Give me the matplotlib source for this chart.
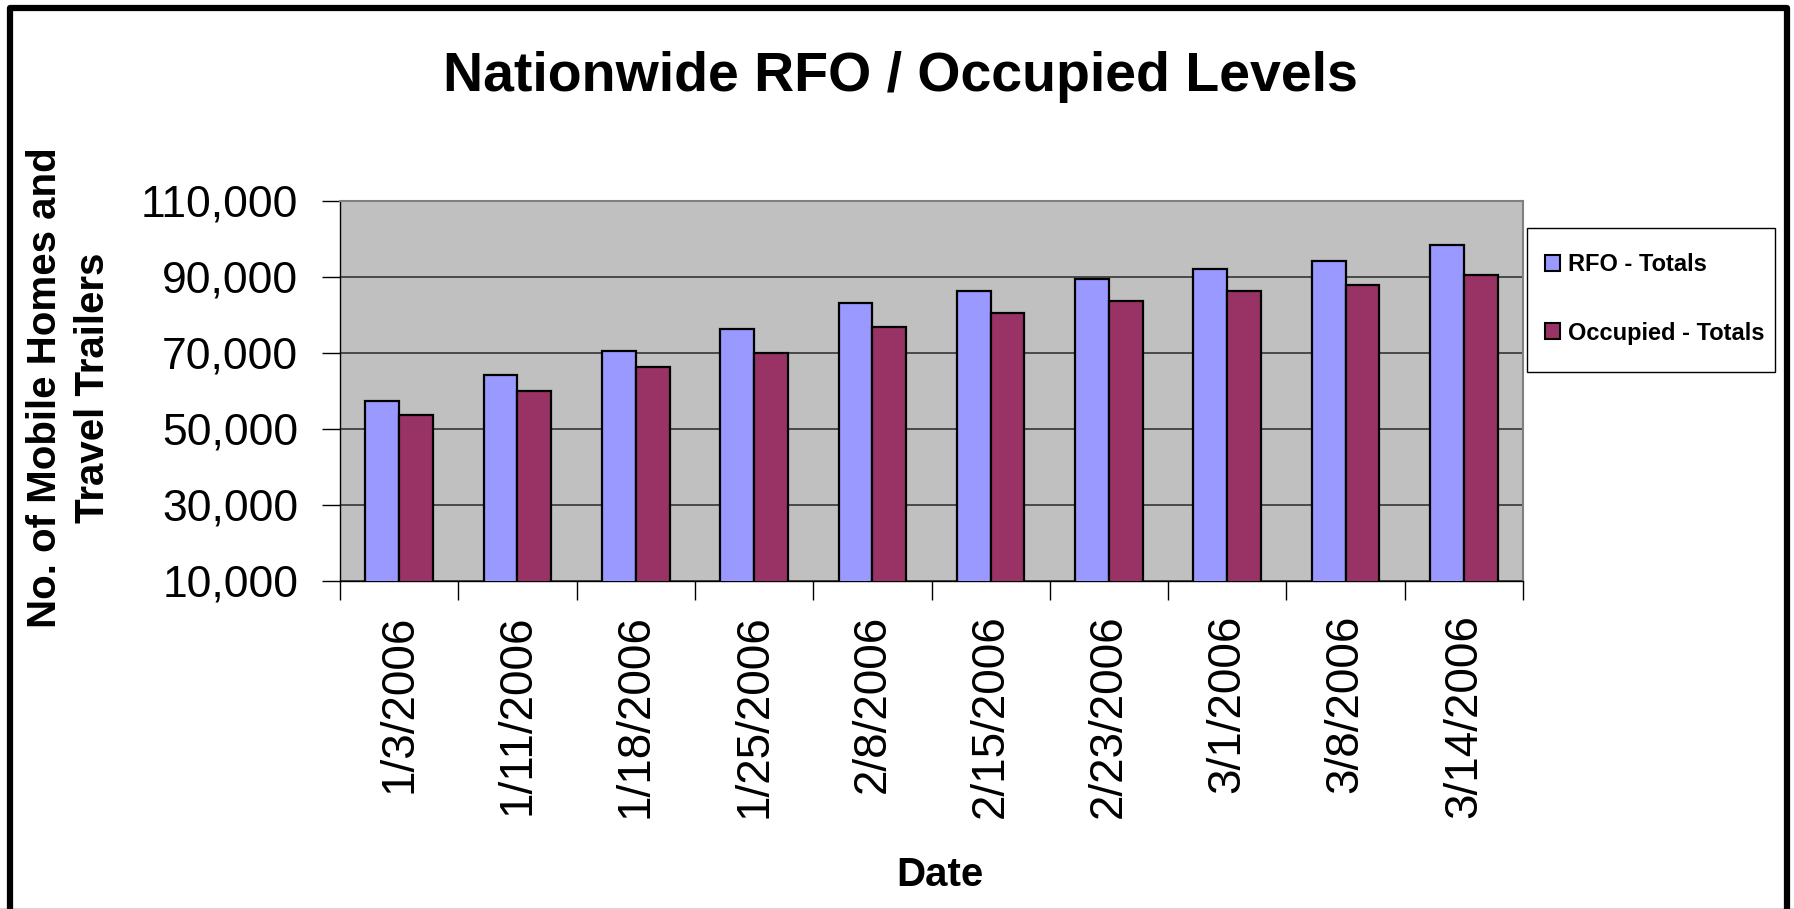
import matplotlib
matplotlib.use("Agg")
import matplotlib.pyplot as plt
import matplotlib.patches as mpatches
from matplotlib.ticker import FuncFormatter
import numpy as np

plt.rcParams['font.family'] = ['Liberation Sans', 'DejaVu Sans']

dates = ['1/3/2006', '1/11/2006', '1/18/2006', '1/25/2006', '2/8/2006',
         '2/15/2006', '2/23/2006', '3/1/2006', '3/8/2006', '3/14/2006']
rfo_totals = [57400, 64200, 70400, 76300, 83200, 86400, 89500, 92000, 94200, 98400]
occupied_totals = [53600, 59900, 66300, 69900, 76800, 80400, 83700, 86300, 87800, 90500]
yticks = [10000, 30000, 50000, 70000, 90000, 110000]

W, H = 1794, 909
fig = plt.figure(figsize=(W / 100, H / 100), dpi=100)
fig.patch.set_facecolor('white')

# plot area in pixels: left 340, right 1523, top 201, bottom 581
ax = fig.add_axes([340 / W, 1 - 581 / H, (1523 - 340) / W, (581 - 201) / H])
ax.set_facecolor('#C0C0C0')

x = np.arange(len(dates))
bw = 1 / 3.5
ax.bar(x - bw / 2, rfo_totals, bw, color='#9999FF', edgecolor='black',
       linewidth=1.6, label='RFO - Totals', zorder=3)
ax.bar(x + bw / 2, occupied_totals, bw, color='#993366', edgecolor='black',
       linewidth=1.6, label='Occupied - Totals', zorder=3)

ax.set_xlim(-0.5, len(dates) - 0.5)
ax.set_ylim(10000, 110000)
ax.set_yticks(yticks)
ax.yaxis.set_major_formatter(FuncFormatter(lambda v, p: '{:,.0f}'.format(v)))
ax.tick_params(axis='y', labelsize=32, length=13, width=1, direction='out', pad=17)
ax.grid(axis='y', color='#404040', linewidth=1.3, zorder=1)

# category ticks at boundaries, labels at centers
ax.set_xticks(np.arange(-0.5, len(dates), 1.0))
ax.set_xticklabels([])
ax.set_xticks(x, minor=True)
ax.set_xticklabels(dates, minor=True, rotation=90, fontsize=33, va='top', ha='center')
ax.tick_params(axis='x', which='major', length=14, width=1, direction='out')
ax.tick_params(axis='x', which='minor', length=0, pad=24)

for s in ['top', 'right']:
    ax.spines[s].set_color('#808080')
    ax.spines[s].set_linewidth(1.5)
for s in ['left', 'bottom']:
    ax.spines[s].set_color('black')
    ax.spines[s].set_linewidth(1)

fig.text(900 / W, 1 - 77 / H, 'Nationwide RFO / Occupied Levels',
         fontsize=40, fontweight='bold', ha='center', va='center')
fig.text(69 / W, 1 - 388 / H, 'No. of Mobile Homes and\nTravel Trailers',
         fontsize=29, fontweight='bold', rotation=90, ha='center', va='center',
         linespacing=1.3, multialignment='center')
fig.text(940 / W, 1 - 875 / H, 'Date', fontsize=29, fontweight='bold',
         ha='center', va='center')

# legend box drawn by hand, entries placed inside it
legbox = mpatches.Rectangle((1527 / W, 1 - 372 / H), (1775 - 1527) / W, (372 - 228) / H,
                            transform=fig.transFigure, facecolor='white',
                            edgecolor='black', linewidth=1, clip_on=False, zorder=4)
ax.add_patch(legbox)
leg = ax.legend(loc='upper left', bbox_to_anchor=(1545 / W, 1 - 253 / H),
                bbox_transform=fig.transFigure, borderaxespad=0, borderpad=0,
                frameon=False, prop={'weight': 'bold', 'size': 17},
                handlelength=0.65, handleheight=0.65, handletextpad=0.33,
                labelspacing=1.93)
leg.set_zorder(6)
for h in leg.legend_handles:
    h.set_linewidth(1.5)

# outer border of the chart
border = mpatches.Rectangle((10 / W, -0.05), (1787 - 10) / W, 1.05 - 8 / H,
                            transform=fig.transFigure, fill=False,
                            edgecolor='black', linewidth=4.5, joinstyle='round')
fig.patches.append(border)
fig.add_artist(plt.Line2D([0, 1], [0.5 / H, 0.5 / H], transform=fig.transFigure,
                          color='#333333', linewidth=1))

fig.savefig('out.png', dpi=100)
